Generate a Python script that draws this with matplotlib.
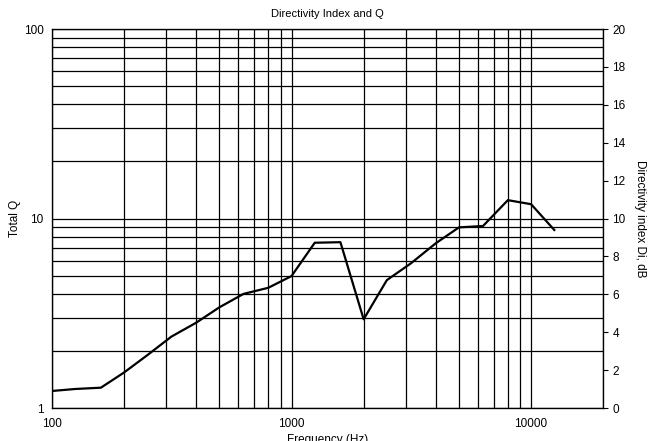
import numpy as np
import matplotlib
matplotlib.use("Agg")
from matplotlib import pyplot as plt
from matplotlib.ticker import LogLocator, NullFormatter, FixedLocator

plt.rcParams['font.family'] = ['Liberation Sans', 'DejaVu Sans']

# third-octave centre frequencies (Hz) and total Q
freq = [100, 125, 160, 200, 250, 315, 400, 500, 630, 800, 1000,
        1250, 1600, 2000, 2500, 3150, 4000, 5000, 6300, 8000, 10000, 12500]
q_total = [1.23, 1.26, 1.28, 1.54, 1.90, 2.38, 2.82, 3.40, 4.0, 4.31, 4.97,
           7.45, 7.5, 2.94, 4.73, 5.80, 7.40, 8.98, 9.13, 12.5, 11.9, 8.7]

x_ticks = [100, 1000, 10000]
y_ticks = [1, 10, 100]
di_ticks = list(range(0, 21, 2))

fig = plt.figure(figsize=(6.57, 4.41), dpi=100)
ax = fig.add_axes([0.0791, 0.0748, 0.8390, 0.8594])

ax.plot(freq, q_total, color='black', lw=1.6, zorder=3)
ax.set_xscale('log')
ax.set_yscale('log')
ax.set_xlim(100, 20000)
ax.set_ylim(1, 100)

ax.xaxis.set_major_locator(FixedLocator(x_ticks))
ax.xaxis.set_minor_locator(LogLocator(base=10, subs=np.arange(2, 10)))
ax.xaxis.set_minor_formatter(NullFormatter())
ax.set_xticklabels([str(v) for v in x_ticks])
ax.yaxis.set_major_locator(FixedLocator(y_ticks))
ax.yaxis.set_minor_locator(LogLocator(base=10, subs=np.arange(2, 10)))
ax.yaxis.set_minor_formatter(NullFormatter())
ax.set_yticklabels([str(v) for v in y_ticks])

ax.grid(True, which='both', color='black', lw=0.9)
ax.tick_params(axis='x', which='both', length=0, labelsize=8.5, pad=7)
ax.tick_params(axis='y', which='both', length=0, labelsize=8.5, pad=6)
for s in ax.spines.values():
    s.set_linewidth(0.9)

# the reference has this label partly below the picture's bottom edge
ax.set_xlabel('Frequency (Hz)', fontsize=8.5, labelpad=3)
ax.set_ylabel('Total Q', fontsize=8.5, labelpad=2)
ax.set_title('Directivity Index and Q', fontsize=8, pad=9)

ax2 = ax.twinx()
ax2.set_ylim(0, 20)
ax2.set_yticks(di_ticks)
ax2.tick_params(length=3.5, width=0.8, labelsize=8.5, pad=3)
ax2.set_ylabel('Directivity index Di, dB', fontsize=8.5, rotation=-90, labelpad=15)

fig.savefig('out.png', dpi=100)
